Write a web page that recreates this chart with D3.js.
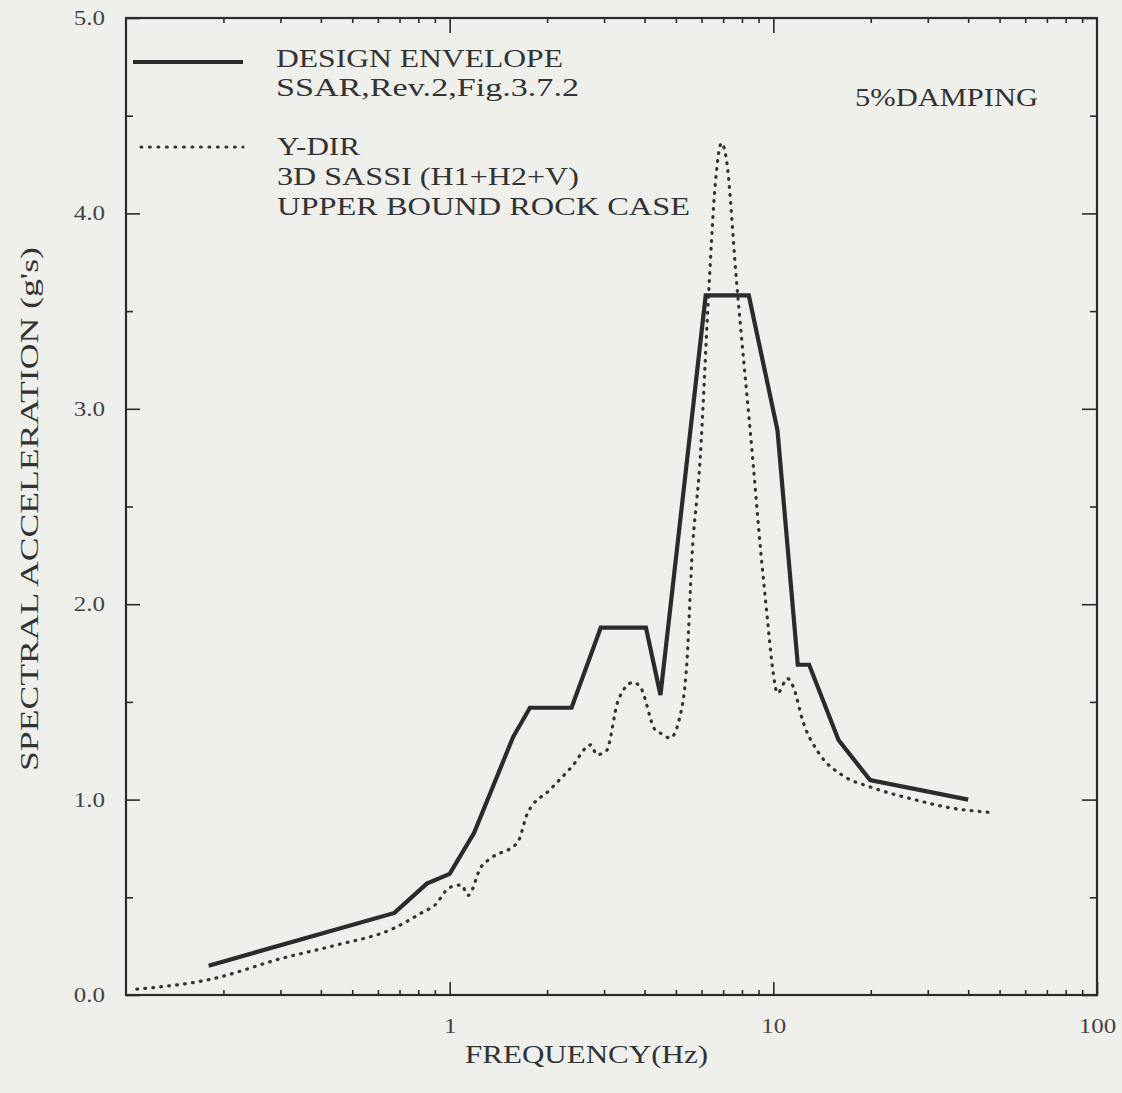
<!DOCTYPE html>
<html>
<head>
<meta charset="utf-8">
<script src="https://cdn.jsdelivr.net/npm/d3@7"></script>
<style>
  html, body { margin: 0; padding: 0; background: #efefec; }
  svg { display: block; }
</style>
</head>
<body>
<div id="vis"></div>
<script>
// design envelope (solid)
let envFreq = [0.18, 0.675, 0.85, 1.0, 1.19, 1.57, 1.77, 2.38, 2.93, 4.04, 4.48, 6.18, 8.4, 10.3, 11.9, 12.9, 15.9, 19.9, 40];
let envAcc = [0.15, 0.42, 0.57, 0.62, 0.83, 1.32, 1.47, 1.47, 1.88, 1.88, 1.535, 3.58, 3.58, 2.89, 1.69, 1.69, 1.305, 1.10, 1.0];

// Y-DIR 3D SASSI upper bound rock case (dotted)
let ydirFreq = [0.108, 0.182, 0.307, 0.44, 0.675, 0.818, 0.9, 1.0, 1.087, 1.14, 1.25, 1.34, 1.62, 1.74, 2.04, 2.39,
    2.73, 2.85, 3.05, 3.32, 3.69, 3.9, 4.3, 4.48, 4.8, 5.12, 5.41, 5.6, 5.94, 6.31, 6.58, 6.92, 7.17, 7.68, 8.64,
    9.13, 9.58, 9.9, 10.3, 11.06, 11.5, 12.4, 13.8, 16.5, 19.9, 27.3, 34.6, 46.2];
let ydirAcc = [0.03, 0.08, 0.19, 0.253, 0.343, 0.42, 0.46, 0.55, 0.563, 0.51, 0.655, 0.70, 0.78, 0.93, 1.05, 1.17,
    1.28, 1.23, 1.25, 1.51, 1.60, 1.57, 1.36, 1.34, 1.315, 1.41, 1.71, 2.23, 2.74, 3.59, 4.10, 4.36, 4.27, 3.67, 2.74,
    2.28, 1.93, 1.70, 1.545, 1.62, 1.58, 1.39, 1.24, 1.12, 1.065, 1.0, 0.96, 0.935];

// axis ticks
let xLabelTicks = [1, 10, 100];
let yLabelTicks = [0, 1, 2, 3, 4, 5];
let yHalfTicks = [0.5, 1.5, 2.5, 3.5, 4.5];

let legendSolid = ['DESIGN ENVELOPE', 'SSAR,Rev.2,Fig.3.7.2'];
let legendDotted = ['Y-DIR', '3D SASSI (H1+H2+V)', 'UPPER BOUND ROCK CASE'];

let margin = { top: 18, left: 126, right: 25, bottom: 98 },
    totalW = 1122,
    totalH = 1093,
    width = totalW - margin.left - margin.right,
    height = totalH - margin.top - margin.bottom;

let ink = '#2b2b2b';
let dotInk = '#333';
let serif = '"Liberation Serif", "Times New Roman", serif';

let svg = d3.select('#vis')
    .append('svg')
    .attr('width', totalW)
    .attr('height', totalH)
    .style('background-color', '#efefec');

let g = svg.append('g')
    .attr('transform', 'translate(' + margin.left + ',' + margin.top + ')');

let x = d3.scaleLog().domain([0.1, 100]).range([0, width]);
let y = d3.scaleLinear().domain([0, 5]).range([height, 0]);

// minor log ticks 2..9 in every decade
let minorTicks = [];
[0.1, 1, 10].forEach(function(dec) {
    for (let k = 2; k <= 9; k++) minorTicks.push(dec * k);
});

// stretch text horizontally like the scanned figure
function widen(sel, k) {
    sel.each(function() {
        let l = this.getComputedTextLength();
        d3.select(this).attr('textLength', l * k).attr('lengthAdjust', 'spacingAndGlyphs');
    });
}

function styleAxis(sel) {
    sel.select('.domain').remove();
    sel.selectAll('line').attr('stroke', ink).attr('stroke-width', 1.6);
    sel.selectAll('text')
        .attr('fill', '#444')
        .style('font-family', serif)
        .style('font-size', '20px');
}

// dotted look of the Y-DIR curve
function dotted(sel) {
    sel.attr('stroke', dotInk)
        .attr('stroke-width', 3.2)
        .attr('stroke-linecap', 'round')
        .attr('stroke-dasharray', '0.8,7.2');
}

// bottom axis
g.append('g').attr('transform', 'translate(0,' + height + ')')
    .call(d3.axisBottom(x).tickValues(minorTicks).tickSize(-5).tickSizeOuter(0).tickFormat(''))
    .call(styleAxis);
let xLab = g.append('g').attr('transform', 'translate(0,' + height + ')')
    .call(d3.axisBottom(x).tickValues(xLabelTicks).tickSize(-13).tickSizeOuter(0).tickPadding(24).tickFormat(d3.format('d')))
    .call(styleAxis);
widen(xLab.selectAll('text'), 1.25);

// top axis
g.append('g')
    .call(d3.axisTop(x).tickValues(minorTicks).tickSize(-5).tickSizeOuter(0).tickFormat(''))
    .call(styleAxis);
g.append('g')
    .call(d3.axisTop(x).tickValues([1, 10]).tickSize(-15).tickSizeOuter(0).tickFormat(''))
    .call(styleAxis);

// left axis
let yLab = g.append('g')
    .call(d3.axisLeft(y).tickValues(yLabelTicks).tickSize(-14).tickSizeOuter(0).tickPadding(21).tickFormat(d3.format('.1f')))
    .call(styleAxis);
widen(yLab.selectAll('text'), 1.25);
g.append('g')
    .call(d3.axisLeft(y).tickValues(yHalfTicks).tickSize(-7).tickSizeOuter(0).tickFormat(''))
    .call(styleAxis);

// right axis
g.append('g').attr('transform', 'translate(' + width + ',0)')
    .call(d3.axisRight(y).tickValues(yLabelTicks).tickSize(-15).tickSizeOuter(0).tickFormat(''))
    .call(styleAxis);
g.append('g').attr('transform', 'translate(' + width + ',0)')
    .call(d3.axisRight(y).tickValues(yHalfTicks).tickSize(-7).tickSizeOuter(0).tickFormat(''))
    .call(styleAxis);

// frame
g.append('rect')
    .attr('width', width)
    .attr('height', height)
    .attr('fill', 'none')
    .attr('stroke', ink)
    .attr('stroke-width', 2.2);

// curves
let envData = envFreq.map(function(f, i) { return { f: f, a: envAcc[i] }; });
let ydirData = ydirFreq.map(function(f, i) { return { f: f, a: ydirAcc[i] }; });

g.append('path')
    .datum(ydirData)
    .attr('fill', 'none')
    .call(dotted)
    .attr('d', d3.line()
        .curve(d3.curveMonotoneX)
        .x(function(d) { return x(d.f); })
        .y(function(d) { return y(d.a); }));

g.append('path')
    .datum(envData)
    .attr('fill', 'none')
    .attr('stroke', ink)
    .attr('stroke-width', 4.2)
    .attr('stroke-linejoin', 'miter')
    .attr('d', d3.line()
        .x(function(d) { return x(d.f); })
        .y(function(d) { return y(d.a); }));

// legend
svg.append('line')
    .attr('x1', 133).attr('x2', 243).attr('y1', 62).attr('y2', 62)
    .attr('stroke', ink).attr('stroke-width', 4.2);
svg.append('line')
    .attr('x1', 141).attr('x2', 243).attr('y1', 147).attr('y2', 147)
    .call(dotted)
    .attr('stroke-dasharray', '0.8,7.7');

let legendText = svg.append('g')
    .attr('fill', '#333')
    .style('font-family', serif)
    .style('font-size', '25px');

let solidLen = [287, 303];
legendSolid.forEach(function(t, i) {
    legendText.append('text')
        .attr('x', 276).attr('y', 67 + i * 29)
        .attr('textLength', solidLen[i]).attr('lengthAdjust', 'spacingAndGlyphs')
        .text(t);
});
let dottedLen = [83, 302, 413];
legendDotted.forEach(function(t, i) {
    legendText.append('text')
        .attr('x', 277).attr('y', 155 + i * 30)
        .attr('textLength', dottedLen[i]).attr('lengthAdjust', 'spacingAndGlyphs')
        .text(t);
});
legendText.append('text')
    .attr('x', 855).attr('y', 106)
    .attr('textLength', 183).attr('lengthAdjust', 'spacingAndGlyphs')
    .text('5%DAMPING');

// axis titles
svg.append('text')
    .attr('x', 465).attr('y', 1063)
    .attr('fill', '#333')
    .style('font-family', serif)
    .style('font-size', '25px')
    .attr('textLength', 243).attr('lengthAdjust', 'spacingAndGlyphs')
    .text('FREQUENCY(Hz)');

svg.append('text')
    .attr('transform', 'translate(38,509) rotate(-90)')
    .attr('text-anchor', 'middle')
    .attr('fill', '#333')
    .style('font-family', serif)
    .style('font-size', '25px')
    .attr('textLength', 524).attr('lengthAdjust', 'spacingAndGlyphs')
    .text("SPECTRAL ACCELERATION (g's)");
</script>
</body>
</html>
